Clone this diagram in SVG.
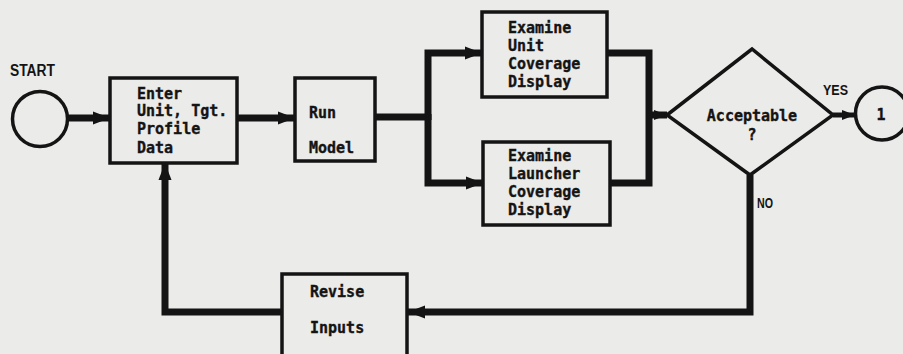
<svg xmlns="http://www.w3.org/2000/svg" width="903" height="354" viewBox="0 0 903 354">
  <style>
    .box { fill: none; stroke: #141414; stroke-width: 3.5; }
    .conn { fill: none; stroke: #141414; stroke-width: 7; stroke-linejoin: miter; }
    .thin { stroke-width: 5; }
    .t { font-family: "DejaVu Sans Mono", "Liberation Mono", monospace; font-weight: bold; font-size: 15px; fill: #141414; stroke: #141414; stroke-width: 0.35; }
    .l { font-family: "Liberation Sans", Arial, sans-serif; font-weight: bold; fill: #141414; }
  </style>
  <defs>
    <marker id="arr" markerUnits="userSpaceOnUse" markerWidth="18" markerHeight="14" refX="17" refY="7" orient="auto">
      <path d="M0,0.5 L17,7 L0,13.5 z" fill="#141414"/>
    </marker>
    <marker id="arrs" markerUnits="userSpaceOnUse" markerWidth="14" markerHeight="12" refX="13" refY="6" orient="auto">
      <path d="M0,1 L13,6 L0,11 z" fill="#141414"/>
    </marker>
  </defs>
  <rect x="0" y="0" width="903" height="354" fill="#ebebe9"/>

  <g id="connectors">
    <path class="conn" d="M68,118 H110" marker-end="url(#arr)"/>
    <path class="conn" d="M237,118 H295" marker-end="url(#arr)"/>
    <path class="conn" d="M375,117 H428"/>
    <path class="conn" d="M428,120 V53 H482" marker-end="url(#arr)"/>
    <path class="conn" d="M428,114 V183 H483" marker-end="url(#arr)"/>
    <path class="conn" d="M607,53 H649 V183 H610"/>
    <path class="conn" d="M649,115 H667" marker-end="url(#arrs)"/>
    <path class="conn thin" d="M833,115 H855" marker-end="url(#arrs)"/>
    <path class="conn" d="M750,175 V312 H408" marker-end="url(#arr)"/>
    <path class="conn" d="M282,312 H165 V163" marker-end="url(#arr)"/>
  </g>

  <g id="start">
    <circle class="box" cx="40" cy="119" r="27.5"/>
    <text class="l" x="10" y="76" font-size="16" textLength="45" lengthAdjust="spacingAndGlyphs">START</text>
  </g>

  <g id="enter">
    <rect class="box" x="110" y="78" width="127" height="85"/>
    <text class="t" x="137" y="99">Enter</text>
    <text class="t" x="137" y="116">Unit, Tgt.</text>
    <text class="t" x="137" y="134">Profile</text>
    <text class="t" x="137" y="153">Data</text>
  </g>

  <g id="run">
    <rect class="box" x="295" y="78" width="80" height="83"/>
    <text class="t" x="309" y="118">Run</text>
    <text class="t" x="309" y="153">Model</text>
  </g>

  <g id="examine-unit">
    <rect class="box" x="482" y="12" width="125" height="85"/>
    <text class="t" x="508" y="33">Examine</text>
    <text class="t" x="508" y="51">Unit</text>
    <text class="t" x="508" y="69">Coverage</text>
    <text class="t" x="508" y="87">Display</text>
  </g>

  <g id="examine-launcher">
    <rect class="box" x="483" y="142" width="127" height="83"/>
    <text class="t" x="508" y="161">Examine</text>
    <text class="t" x="508" y="179">Launcher</text>
    <text class="t" x="508" y="197">Coverage</text>
    <text class="t" x="508" y="215">Display</text>
  </g>

  <g id="acceptable">
    <polygon class="box" points="667,115 752,49 833,115 750,175"/>
    <text class="t" x="752" y="121" text-anchor="middle">Acceptable</text>
    <text class="t" x="752" y="140" text-anchor="middle">?</text>
    <text class="l" x="823" y="95" font-size="14" textLength="25" lengthAdjust="spacingAndGlyphs">YES</text>
    <text class="l" x="757" y="208" font-size="15" textLength="16" lengthAdjust="spacingAndGlyphs">NO</text>
  </g>

  <g id="connector-1">
    <circle class="box" cx="882" cy="113.5" r="26.5"/>
    <text class="t" x="881" y="120" text-anchor="middle" font-size="16">1</text>
  </g>

  <g id="revise">
    <rect class="box" x="282" y="274" width="125" height="100"/>
    <text class="t" x="310" y="297">Revise</text>
    <text class="t" x="310" y="333">Inputs</text>
  </g>
</svg>
